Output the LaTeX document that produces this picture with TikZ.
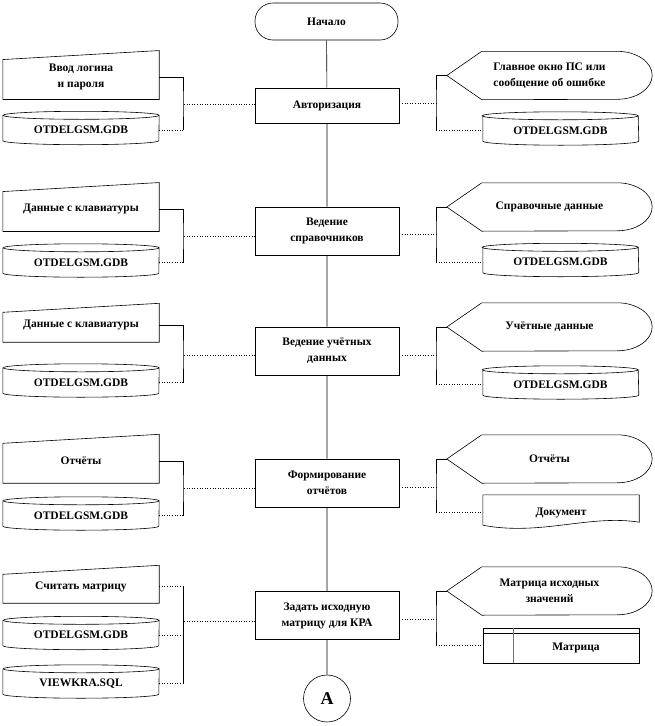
\documentclass[tikz,border=0pt]{standalone}
\usepackage{fontspec}
\setmainfont{Liberation Serif}
\usepackage{tikz}

\tikzset{
  txt/.style={font=\bfseries\fontsize{11.5}{16}\selectfont,align=center,inner sep=0pt},
  proc/.style={txt,draw,line width=0.6pt,minimum width=144,minimum height=48},
  term/.style={txt,draw,line width=0.6pt,rounded corners=18,minimum width=143,minimum height=37},
  manin/.style={txt,minimum width=156,minimum height=44},
  dbase/.style={txt,minimum width=156,minimum height=29},
  disp/.style={txt,minimum width=205,minimum height=48},
  line/.style={line width=0.6pt},
  link/.style={line width=0.6pt,dotted}
}
% outlines drawn round the (invisible) nodes
\newcommand{\maninpath}[1]{\draw[line] (#1.south west) -- ([yshift=-4.5]#1.north west)
  -- ([yshift=4.5]#1.north east) -- (#1.south east) -- cycle;}
\newcommand{\dbpath}[1]{\draw[line] (#1.north west) -- ([yshift=4]#1.south west)
  arc[start angle=180,end angle=360,x radius=78pt,y radius=4pt] -- (#1.north east)
  arc[start angle=0,end angle=360,x radius=78pt,y radius=4pt];}
\newcommand{\disppath}[1]{\draw[line] (#1.west) -- ([xshift=35]#1.north west)
  -- ([xshift=-35]#1.north east) arc[start angle=90,end angle=-90,x radius=35pt,y radius=24pt]
  -- ([xshift=35]#1.south west) -- cycle;}

\begin{document}
\begin{tikzpicture}[x=1pt,y=1pt]
  \useasboundingbox (0,0) rectangle (655,-726);

  % main column
  \node[term] (start) at (326.5,-21.5) {Начало};
  \node[proc,minimum height=35] (p1) at (327,-105.5) {Авторизация};
  \node[proc] (p2) at (327,-231) {Ведение\\справочников};
  \node[proc] (p3) at (327,-351) {Ведение учётных\\данных};
  \node[proc] (p4) at (327,-483) {Формирование\\отчётов};
  \node[proc] (p5) at (327,-615.5) {Задать исходную\\матрицу для КРА};
  \node[draw,line width=0.6pt,circle,minimum size=47,inner sep=0pt,
        font=\bfseries\fontsize{18}{18}\selectfont] (conA) at (327,-698.5) {A};
  \draw[line] (start) -- (p1) -- (p2) -- (p3) -- (p4) -- (p5) -- (conA);

  % left column
  \node[manin] (in1) at (81,-77.25) {Ввод логина\\и пароля};
  \node[dbase] (db1) at (81,-130) {OTDELGSM.GDB};
  \node[manin] (in2) at (81,-209.25) {Данные с клавиатуры};
  \node[dbase] (db2) at (81,-262.5) {OTDELGSM.GDB};
  \node[manin,minimum height=34] (in3) at (81,-325) {Данные с клавиатуры};
  \node[dbase] (db3) at (81,-382.5) {OTDELGSM.GDB};
  \node[manin] (in4) at (81,-461) {Отчёты};
  \node[dbase] (db4) at (81,-515.5) {OTDELGSM.GDB};
  \node[manin,minimum height=33] (in5) at (81,-586.5) {Считать матрицу};
  \node[dbase] (db5) at (81,-635) {OTDELGSM.GDB};
  \node[dbase] (db6) at (81,-683.5) {VIEWKRA.SQL};
  \maninpath{in1} \maninpath{in2} \maninpath{in3} \maninpath{in4} \maninpath{in5}
  \dbpath{db1} \dbpath{db2} \dbpath{db3} \dbpath{db4} \dbpath{db5} \dbpath{db6}

  % right column
  \node[disp] (d1) at (549.5,-75.5) {Главное окно ПС или\\сообщение об ошибке};
  \node[dbase,minimum width=155] (rdb1) at (560.5,-130.5) {OTDELGSM.GDB};
  \node[disp] (d2) at (549.5,-207) {Справочные данные};
  \node[dbase,minimum width=155] (rdb2) at (560.5,-262) {OTDELGSM.GDB};
  \node[disp] (d3) at (549.5,-327) {Учётные данные};
  \node[dbase,minimum width=155] (rdb3) at (560.5,-384.5) {OTDELGSM.GDB};
  \node[disp] (d4) at (549.5,-459) {Отчёты};
  \node[txt,minimum width=156,minimum height=35] (doc) at (561,-512.5) {Документ};
  \node[disp] (d5) at (549.5,-591) {Матрица исходных\\значений};
  \node[draw,line width=0.6pt,minimum width=156,minimum height=35] (mx) at (561,-645.5) {};
  \node[txt] (mxt) at (576,-648) {Матрица};
  \disppath{d1} \disppath{d2} \disppath{d3} \disppath{d4} \disppath{d5}
  \dbpath{rdb1} \dbpath{rdb2} \dbpath{rdb3}
  \draw[line] ([yshift=5]doc.south west) -- (doc.north west) -- (doc.north east)
    -- ([yshift=8]doc.south east) .. controls ([xshift=-49,yshift=16]doc.south east)
    and ([xshift=57,yshift=-6]doc.south west) .. ([yshift=5]doc.south west);
  \draw[line] ([yshift=-6]mx.north west) -- ([yshift=-6]mx.north east);
  \draw[line width=1pt,black!55] ([xshift=31]mx.north west) -- ([xshift=31]mx.south west);

  % junctions
  \coordinate (jl1) at (183,-104);
  \coordinate (jl2) at (183,-236);
  \coordinate (jl3) at (183,-355);
  \coordinate (jl4) at (183,-488);
  \coordinate (jl5) at (183,-621);
  \coordinate (jr1) at (436,-103);
  \coordinate (jr2) at (436,-234);
  \coordinate (jr3) at (436,-355);
  \coordinate (jr4) at (436,-487);
  \coordinate (jr5) at (436,-619);

  % brackets
  \draw[line] (in1.east) -| (jl1) -- (jl1 |- db1.east);
  \draw[link] (jl1 |- db1.east) -- (db1.east);
  \draw[line] (in2.east) -| (jl2) -- (jl2 |- db2.east);
  \draw[link] (jl2 |- db2.east) -- (db2.east);
  \draw[line] (in3.east) -| (jl3) -- (jl3 |- db3.east);
  \draw[link] (jl3 |- db3.east) -- (db3.east);
  \draw[line] (in4.east) -| (jl4) -- (jl4 |- db4.east);
  \draw[link] (jl4 |- db4.east) -- (db4.east);
  \draw[line] (jl5 |- in5.east) -- (jl5 |- db6.east);
  \draw[link] (in5.east) -- (jl5 |- in5.east);
  \draw[link] (db5.east) -- (jl5 |- db5.east);
  \draw[link] (db6.east) -- (jl5 |- db6.east);

  \draw[line] (d1.west) -| (jr1) -- (jr1 |- rdb1.west);
  \draw[link] (jr1 |- rdb1.west) -- (rdb1.west);
  \draw[line] (d2.west) -| (jr2) -- (jr2 |- rdb2.west);
  \draw[link] (jr2 |- rdb2.west) -- (rdb2.west);
  \draw[line] (d3.west) -| (jr3) -- (jr3 |- rdb3.west);
  \draw[link] (jr3 |- rdb3.west) -- (rdb3.west);
  \draw[line] (d4.west) -| (jr4) -- (jr4 |- doc.west);
  \draw[link] (jr4 |- doc.west) -- (doc.west);
  \draw[line] (d5.west) -| (jr5) -- (jr5 |- mx.west);
  \draw[link] (jr5 |- mx.west) -- (mx.west);

  % links to the process boxes
  \draw[link] (p1.west |- jl1) -- (jl1);
  \draw[link] (p2.west |- jl2) -- (jl2);
  \draw[link] (p3.west |- jl3) -- (jl3);
  \draw[link] (p4.west |- jl4) -- (jl4);
  \draw[link] (p5.west |- jl5) -- (jl5);
  \draw[link] (p1.east |- jr1) -- (jr1);
  \draw[link] (p2.east |- jr2) -- (jr2);
  \draw[link] (p3.east |- jr3) -- (jr3);
  \draw[link] (p4.east |- jr4) -- (jr4);
  \draw[link] (p5.east |- jr5) -- (jr5);
\end{tikzpicture}
\end{document}
